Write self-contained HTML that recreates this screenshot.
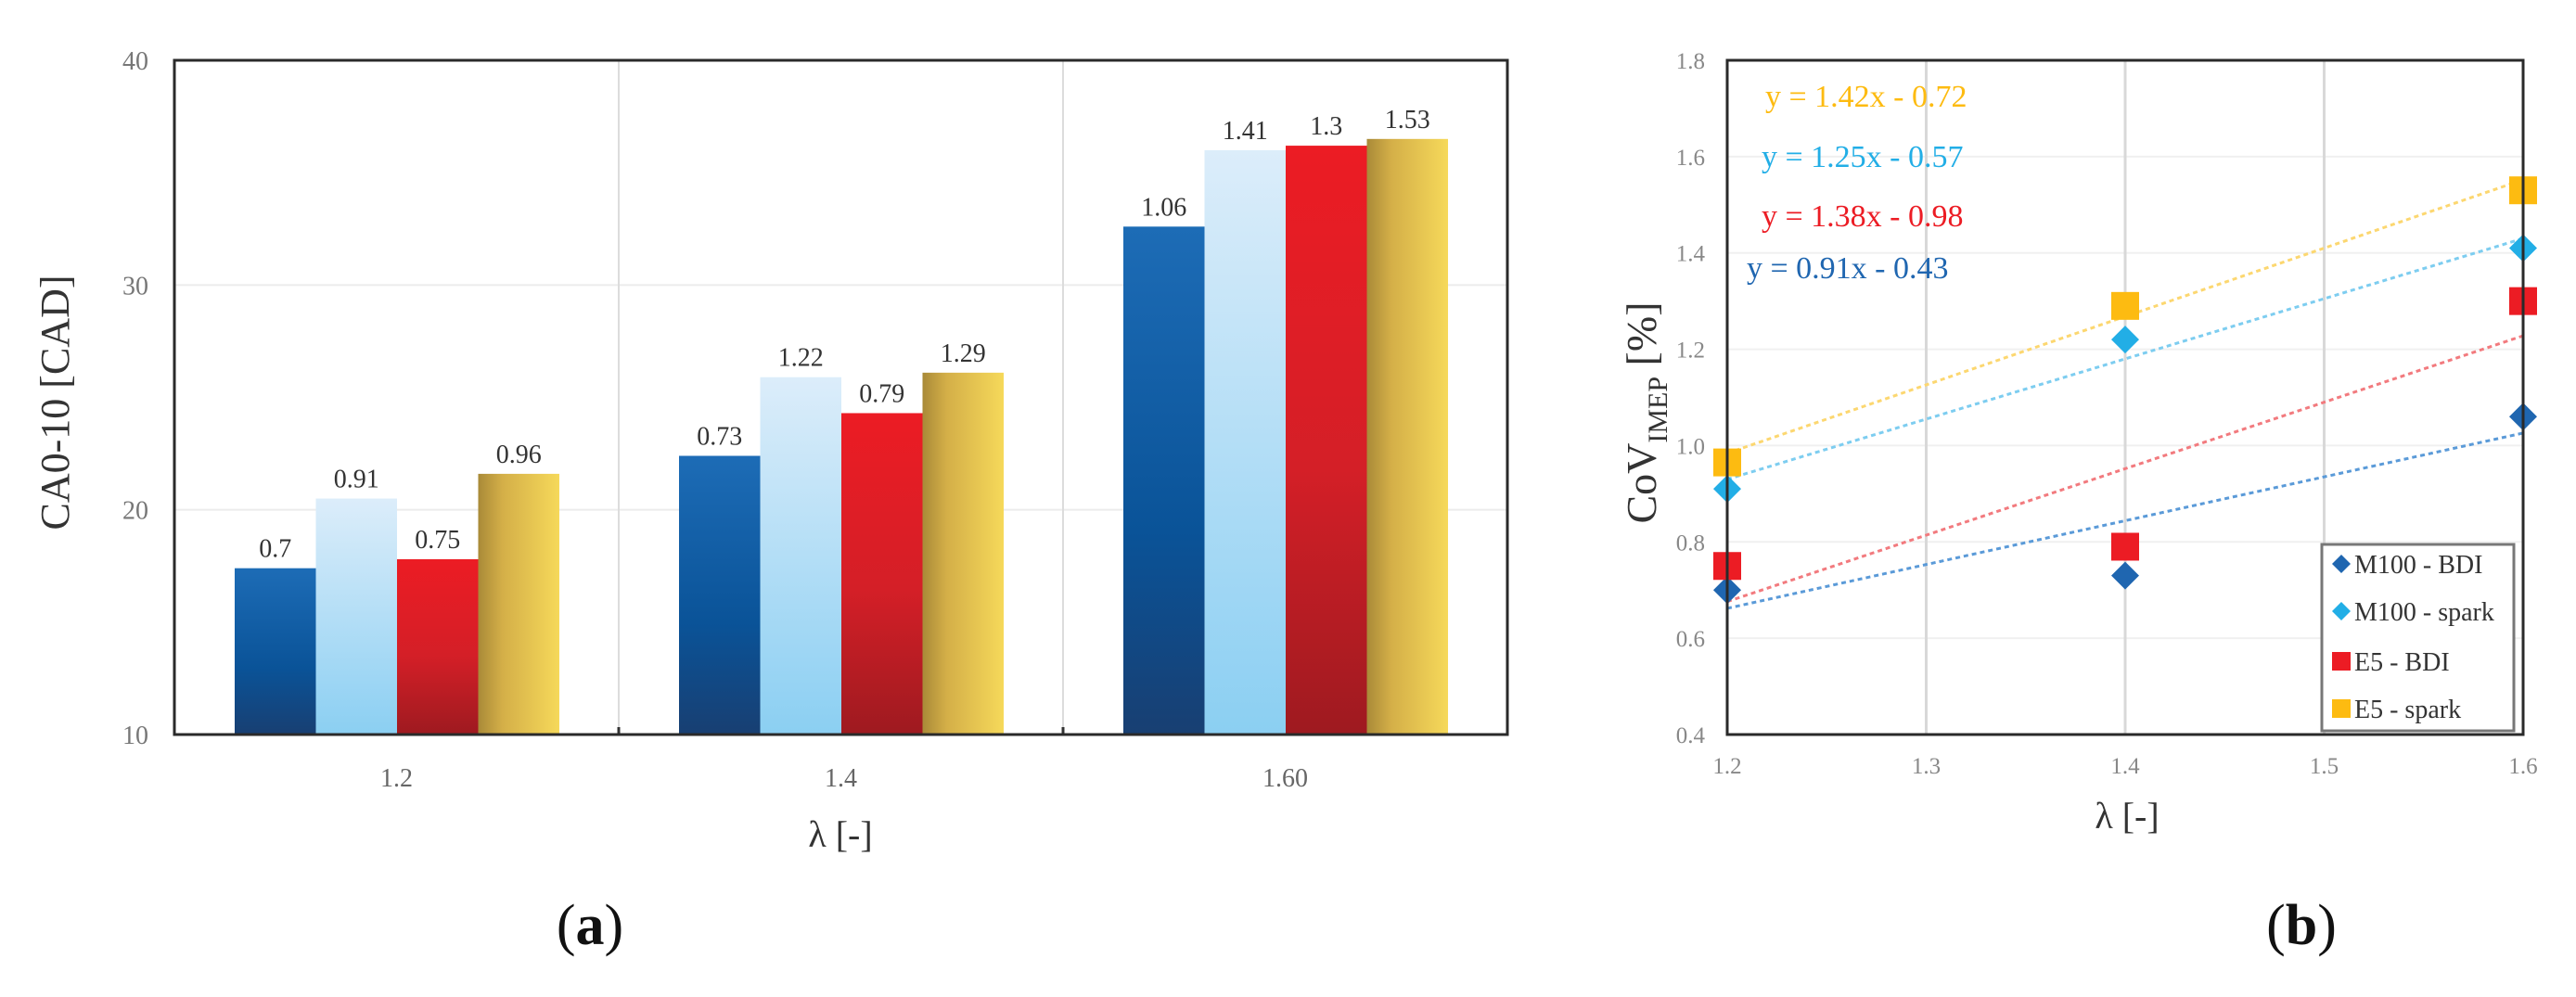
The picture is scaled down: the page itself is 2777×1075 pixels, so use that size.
<!DOCTYPE html>
<html><head><meta charset="utf-8">
<style>
html,body{margin:0;padding:0;background:#fff;}
svg{display:block;font-family:"Liberation Serif",serif;}
</style></head>
<body>
<svg id="chart" width="2777" height="1075" viewBox="0 0 2777 1075" xmlns="http://www.w3.org/2000/svg">
<defs>
<linearGradient id="gDark" x1="0" y1="0" x2="0" y2="1"><stop offset="0" stop-color="#1d6cb6"/><stop offset="0.6" stop-color="#0a5398"/><stop offset="1" stop-color="#183f72"/></linearGradient>
<linearGradient id="gLight" x1="0" y1="0" x2="0" y2="1"><stop offset="0" stop-color="#dcedfa"/><stop offset="1" stop-color="#8bcff2"/></linearGradient>
<linearGradient id="gRed" x1="0" y1="0" x2="0" y2="1"><stop offset="0" stop-color="#ec1c24"/><stop offset="0.55" stop-color="#d41f27"/><stop offset="1" stop-color="#9e1a20"/></linearGradient>
<linearGradient id="gGold" x1="0" y1="0" x2="1" y2="0"><stop offset="0" stop-color="#a98a38"/><stop offset="0.3" stop-color="#d4af48"/><stop offset="1" stop-color="#f6d95a"/></linearGradient>
</defs>
<g id="chartA"></g>
<g id="chartB"></g>
</svg>
<script>
const categoriesA = ["1.2", "1.4", "1.60"];
const seriesM100BDI = [17.4, 22.4, 32.6];
const seriesM100Spark = [20.5, 25.9, 36.0];
const seriesE5BDI = [17.8, 24.3, 36.2];
const seriesE5Spark = [21.6, 26.1, 36.5];
const labelsM100BDI = ["0.7", "0.73", "1.06"];
const labelsM100Spark = ["0.91", "1.22", "1.41"];
const labelsE5BDI = ["0.75", "0.79", "1.3"];
const labelsE5Spark = ["0.96", "1.29", "1.53"];
const yTicksA = [10, 20, 30, 40];

const xB = [1.2, 1.4, 1.6];
const covM100BDI = [0.70, 0.73, 1.06];
const covM100Spark = [0.91, 1.22, 1.41];
const covE5BDI = [0.75, 0.79, 1.30];
const covE5Spark = [0.965, 1.29, 1.53];
const slopes = [0.91, 1.25, 1.38, 1.42];
const intercepts = [-0.43, -0.57, -0.98, -0.72];
const eqLabels = ["y = 0.91x - 0.43", "y = 1.25x - 0.57", "y = 1.38x - 0.98", "y = 1.42x - 0.72"];
const xTicksB = [1.2, 1.3, 1.4, 1.5, 1.6];
const yTicksB = [0.4, 0.6, 0.8, 1.0, 1.2, 1.4, 1.6, 1.8];

const NS = "http://www.w3.org/2000/svg";
function mk(parent, tag, attrs, text) {
  const e = document.createElementNS(NS, tag);
  for (const k in attrs) e.setAttribute(k, attrs[k]);
  if (text !== undefined) e.textContent = text;
  parent.appendChild(e);
  return e;
}

// ---------- Chart A ----------
const A = document.getElementById('chartA');
const aL = 188, aR = 1625, aT = 65, aB = 792;
const yMinA = 10, yMaxA = 40;
const ya = v => aB - (v - yMinA) / (yMaxA - yMinA) * (aB - aT);
const catW = (aR - aL) / categoriesA.length;
const xa = i => aL + catW * i;

yTicksA.forEach(t => {
  if (t !== yMinA && t !== yMaxA) {
    const g = mk(A, 'line', {x1: aL, x2: aR, y1: ya(t), y2: ya(t), stroke: '#ececec', 'stroke-width': 2});
    
    
  }
  const tl = mk(A, 'text', {x: 160, y: ya(t) + 10, 'text-anchor': 'end', 'font-size': 28, fill: '#777'}, String(t));
  
  
});
for (let i = 1; i < categoriesA.length; i++) {
  const g = mk(A, 'line', {x1: xa(i), x2: xa(i), y1: aT, y2: aB, stroke: '#dcdcdc', 'stroke-width': 2});
  
  
}
const seriesA = [
  [seriesM100BDI, labelsM100BDI, 'url(#gDark)', 'm100-bdi'],
  [seriesM100Spark, labelsM100Spark, 'url(#gLight)', 'm100-spark'],
  [seriesE5BDI, labelsE5BDI, 'url(#gRed)', 'e5-bdi'],
  [seriesE5Spark, labelsE5Spark, 'url(#gGold)', 'e5-spark']
];
const barW = 87.5, groupOff = 65;
categoriesA.forEach((c, i) => {
  seriesA.forEach((s, j) => {
    const x = xa(i) + groupOff + j * barW;
    const y = ya(s[0][i]);
    const r = mk(A, 'rect', {x: x, y: y, width: barW, height: aB - y, fill: s[2]});
    
    
    const t = mk(A, 'text', {x: x + barW / 2, y: y - 12, 'text-anchor': 'middle', 'font-size': 28, fill: '#333'}, s[1][i]);
    
    
  });
  const cl = mk(A, 'text', {x: xa(i) + catW / 2, y: 848, 'text-anchor': 'middle', 'font-size': 28, fill: '#666'}, c);
  
  
  if (i > 0) {
    const tk = mk(A, 'line', {x1: xa(i), x2: xa(i), y1: aB, y2: aB - 8, stroke: '#333', 'stroke-width': 3});
    
    
  }
});
const frameA = mk(A, 'rect', {x: aL, y: aT, width: aR - aL, height: aB - aT, fill: 'none', stroke: '#2a2a2a', 'stroke-width': 3});


const ytA = mk(A, 'text', {x: 0, y: 0, transform: 'translate(74,434) rotate(-90)', 'text-anchor': 'middle', 'font-size': 44, fill: '#333'}, 'CA0-10  [CAD]');


const xtA = mk(A, 'text', {x: 906, y: 913, 'text-anchor': 'middle', 'font-size': 40, fill: '#333'}, 'λ [-]');


const capA = mk(A, 'text', {x: 636, y: 1018, 'text-anchor': 'middle', 'font-size': 62, fill: '#111'});
capA.innerHTML = '(<tspan font-weight="bold">a</tspan>)';



// ---------- Chart B ----------
const B = document.getElementById('chartB');
const bL = 1862, bR = 2720, bT = 65, bB = 792;
const xMinB = 1.2, xMaxB = 1.6, yMinB = 0.4, yMaxB = 1.8;
const xb = v => bL + (v - xMinB) / (xMaxB - xMinB) * (bR - bL);
const yb = v => bB - (v - yMinB) / (yMaxB - yMinB) * (bB - bT);

yTicksB.forEach(t => {
  if (t > yMinB + 1e-9 && t < yMaxB - 1e-9) {
    const g = mk(B, 'line', {x1: bL, x2: bR, y1: yb(t), y2: yb(t), stroke: '#f0f0f0', 'stroke-width': 2});
    
    
  }
  const tl = mk(B, 'text', {x: 1838, y: yb(t) + 9, 'text-anchor': 'end', 'font-size': 25, fill: '#888'}, t.toFixed(1));
  
  
});
xTicksB.forEach(t => {
  if (t > xMinB + 1e-9 && t < xMaxB - 1e-9) {
    const g = mk(B, 'line', {x1: xb(t), x2: xb(t), y1: bT, y2: bB, stroke: '#d8d8d8', 'stroke-width': 3});
    
    
  }
  const tl = mk(B, 'text', {x: xb(t), y: 834, 'text-anchor': 'middle', 'font-size': 25, fill: '#888'}, t.toFixed(1));
  
  
});
const colsB = ['#1f66b0', '#22aee6', '#ec1c24', '#fdbb11'];
const trendCols = ['#5a9ad8', '#7dcdf0', '#f27a7e', '#fcd770'];
const namesB = ['m100-bdi', 'm100-spark', 'e5-bdi', 'e5-spark'];
const dataB = [covM100BDI, covM100Spark, covE5BDI, covE5Spark];
slopes.forEach((m, k) => {
  const l = mk(B, 'line', {x1: xb(xMinB), y1: yb(m * xMinB + intercepts[k]), x2: xb(xMaxB), y2: yb(m * xMaxB + intercepts[k]), stroke: trendCols[k], 'stroke-width': 3, 'stroke-dasharray': '5 4'});
  
  
});
dataB.forEach((s, k) => {
  s.forEach((v, i) => {
    const cx = xb(xB[i]), cy = yb(v);
    let p;
    if (k < 2) {
      p = mk(B, 'polygon', {points: `${cx},${cy-15} ${cx+15},${cy} ${cx},${cy+15} ${cx-15},${cy}`, fill: colsB[k]});
    } else {
      p = mk(B, 'rect', {x: cx - 15, y: cy - 15, width: 30, height: 30, fill: colsB[k]});
    }
    
    
  });
});
const eqPos = [[1883, 300], [1899, 180], [1899, 244], [1903, 115]];
eqLabels.forEach((e, k) => {
  const t = mk(B, 'text', {x: eqPos[k][0], y: eqPos[k][1], 'font-size': 34, fill: colsB[k]}, e);
  
  
});
const frameB = mk(B, 'rect', {x: bL, y: bT, width: bR - bL, height: bB - bT, fill: 'none', stroke: '#2a2a2a', 'stroke-width': 3});


// legend
const lg = mk(B, 'g', {});


mk(lg, 'rect', {x: 2503, y: 587, width: 207, height: 201, fill: '#fff', stroke: '#777', 'stroke-width': 3});
const legNames = ['M100 - BDI', 'M100 - spark', 'E5 - BDI', 'E5 - spark'];
const legY = [608, 659, 713, 764];
legNames.forEach((n, k) => {
  const cx = 2524, cy = legY[k];
  let m;
  if (k < 2) m = mk(lg, 'polygon', {points: `${cx},${cy-10} ${cx+10},${cy} ${cx},${cy+10} ${cx-10},${cy}`, fill: colsB[k]});
  else m = mk(lg, 'rect', {x: cx - 10, y: cy - 10, width: 20, height: 20, fill: colsB[k]});
  
  
  const t = mk(lg, 'text', {x: 2538, y: cy + 10, 'font-size': 28, fill: '#333'}, n);
  
  
});
const ytB = mk(B, 'text', {x: 0, y: 0, transform: 'translate(1785,445) rotate(-90)', 'text-anchor': 'middle', 'font-size': 46, fill: '#333'});
ytB.innerHTML = 'CoV<tspan font-size="30" dy="12">IMEP</tspan><tspan dy="-12"> [%]</tspan>';


const xtB = mk(B, 'text', {x: 2293, y: 893, 'text-anchor': 'middle', 'font-size': 40, fill: '#333'}, 'λ [-]');


const capB = mk(B, 'text', {x: 2481, y: 1018, 'text-anchor': 'middle', 'font-size': 62, fill: '#111'});
capB.innerHTML = '(<tspan font-weight="bold">b</tspan>)';


</script>
</body></html>
